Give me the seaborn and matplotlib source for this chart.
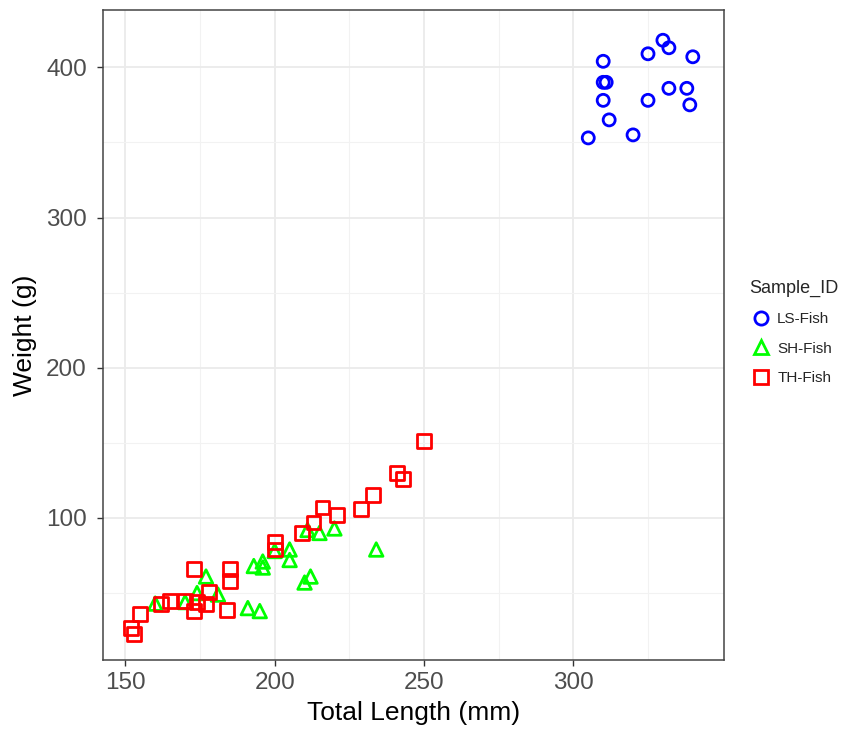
"""Fish weight vs total length scatter, ggplot theme_bw look."""

import matplotlib.pyplot as plt
import pandas as pd
import seaborn as sns
from matplotlib.lines import Line2D
from matplotlib.ticker import FixedLocator

ls_length = [305, 310, 310, 311, 310, 312, 320, 325, 325, 330, 332, 332, 338, 339, 340]
ls_weight = [353, 404, 390, 390, 378, 365, 355, 409, 378, 418, 413, 386, 386, 375, 407]

sh_length = [160, 170, 174, 177, 181, 191, 195, 193, 196, 196, 200, 205, 205,
             210, 212, 211, 215, 220, 234]
sh_weight = [43, 44, 50, 61, 49, 40, 38, 68, 71, 67, 78, 79, 72,
             57, 61, 92, 90, 93, 79]

th_length = [152, 153, 155, 162, 165, 170, 173, 174, 177, 178, 173, 184, 185,
             185, 200, 200, 209, 213, 216, 221, 229, 233, 241, 243, 250]
th_weight = [27, 23, 36, 43, 45, 45, 38, 44, 43, 51, 66, 39, 66,
             58, 84, 79, 90, 97, 107, 102, 106, 115, 130, 126, 151]

x_breaks = [150, 200, 250, 300]
x_minor = [175, 225, 275, 325]
y_breaks = [100, 200, 300, 400]
y_minor = [50, 150, 250, 350]

groups = ["LS-Fish", "SH-Fish", "TH-Fish"]
colors = {"LS-Fish": "#0000FF", "SH-Fish": "#00FF00", "TH-Fish": "#FF0000"}
markers = {"LS-Fish": "o", "SH-Fish": "^", "TH-Fish": "s"}
sizes = {"LS-Fish": 75, "SH-Fish": 95, "TH-Fish": 100}

df = pd.concat(
    [
        pd.DataFrame({"length": ls_length, "weight": ls_weight, "Sample_ID": "LS-Fish"}),
        pd.DataFrame({"length": sh_length, "weight": sh_weight, "Sample_ID": "SH-Fish"}),
        pd.DataFrame({"length": th_length, "weight": th_weight, "Sample_ID": "TH-Fish"}),
    ],
    ignore_index=True,
)

sns.set_theme(style="white")
plt.rcParams["font.family"] = ["Liberation Sans", "DejaVu Sans"]

fig = plt.figure(figsize=(8.44, 7.3), dpi=100)
ax = fig.add_axes([0.122, 0.096, 0.736, 0.890])

for g in groups:
    sub = df[df["Sample_ID"] == g]
    sns.scatterplot(
        data=sub, x="length", y="weight", ax=ax,
        marker=markers[g], s=sizes[g], color=colors[g],
        facecolor="none", edgecolor=colors[g], linewidth=2.0,
        legend=False, zorder=3,
    )

ax.set_xlim(142.5, 350.5)
ax.set_ylim(5.5, 438)
ax.xaxis.set_major_locator(FixedLocator(x_breaks))
ax.xaxis.set_minor_locator(FixedLocator(x_minor))
ax.yaxis.set_major_locator(FixedLocator(y_breaks))
ax.yaxis.set_minor_locator(FixedLocator(y_minor))
ax.grid(True, which="major", color="#EBEBEB", linewidth=1.3)
ax.grid(True, which="minor", color="#F2F2F2", linewidth=0.8)
ax.set_axisbelow(True)
for sp in ax.spines.values():
    sp.set_color("#444444")
    sp.set_linewidth(1.1)

ax.tick_params(which="major", length=4.5, width=1, color="#333333",
               labelsize=17.5, labelcolor="#4D4D4D", bottom=True, left=True)
ax.tick_params(axis="x", which="major", pad=4)
ax.tick_params(axis="y", which="major", pad=7)
ax.tick_params(which="minor", length=0)
ax.set_xlabel("Total Length (mm)", fontsize=19, color="black", labelpad=5)
ax.set_ylabel("Weight (g)", fontsize=19, color="black", labelpad=7)

handles = [
    Line2D([], [], linestyle="none", marker=markers[g], markersize=9.5,
           markerfacecolor="none", markeredgecolor=colors[g], markeredgewidth=2.0)
    for g in groups
]
leg = fig.legend(
    handles, groups, title="Sample_ID", loc="upper left",
    bbox_to_anchor=(0.881, 0.625), frameon=False, fontsize=11,
    title_fontsize=13, handletextpad=0.3, labelspacing=1.0,
    borderaxespad=0, handlelength=1.5,
)
leg._legend_box.align = "left"

fig.savefig("out.png", dpi=100)
